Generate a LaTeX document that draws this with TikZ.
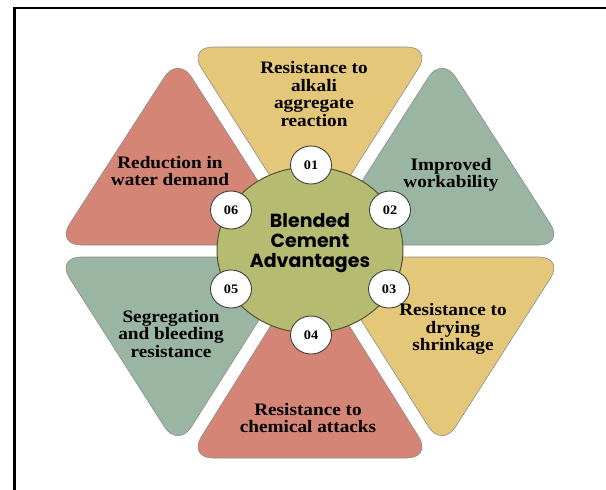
\documentclass[tikz,border=0pt]{standalone}
\usepackage{fontspec}
\setmainfont{Liberation Serif}[FakeStretch=1.1]
\newfontfamily\hubfont{Poppins}
\usetikzlibrary{shapes}
\definecolor{petalyellow}{RGB}{229,199,121}
\definecolor{petalgreen}{RGB}{154,181,161}
\definecolor{petalred}{RGB}{213,133,118}
\definecolor{hubolive}{RGB}{181,187,112}
\tikzstyle{petal} = [draw=black!45, line width=0.6pt, rounded corners=25pt]
\tikzstyle{petaltext} = [align=center, text=black, font=\bfseries\fontsize{17.5}{17.5}\selectfont]
\tikzstyle{numdot} = [ellipse, draw=black!75, line width=0.9pt, fill=white, minimum width=41pt, minimum height=38pt, inner sep=0pt, font=\bfseries\fontsize{13}{13}\selectfont]
\tikzstyle{hubdisc} = [ellipse, draw=hubolive!45!black, line width=1pt, fill=hubolive, minimum width=186pt, minimum height=166pt]

\begin{document}
\begin{tikzpicture}[x=1pt, y=-1pt]
\useasboundingbox (0,0) rectangle (606,490);
\draw[line width=2.4pt] (14.5,490) -- (14.5,7.8) -- (606,7.8);

% petals round the hub
\draw[petal, fill=petalyellow] (188,47) -- (432,47) -- (310,239) -- cycle;
\draw[petal, fill=petalgreen] (321.2,245) -- (442,56) -- (564,245) -- cycle;
\draw[petal, fill=petalyellow] (321.2,257) -- (564,257) -- (442,448) -- cycle;
\draw[petal, fill=petalred] (310,263) -- (432,458) -- (188,458) -- cycle;
\draw[petal, fill=petalgreen] (298.8,257) -- (178,448) -- (56,257) -- cycle;
\draw[petal, fill=petalred] (298.8,245) -- (56,245) -- (178,56) -- cycle;

% hub
\node[hubdisc] (hub) at (310,250) {};
\node[align=center, font=\hubfont\bfseries\fontsize{19}{20}\selectfont] (hubtext) at (310,243) {Blended\\Cement\\Advantages};

% numbers
\node[numdot] (n01) at (311,165) {01};
\node[numdot] (n02) at (390,210) {02};
\node[numdot] (n03) at (389,289) {03};
\node[numdot] (n04) at (311,335) {04};
\node[numdot] (n05) at (231,289) {05};
\node[numdot] (n06) at (231,210) {06};

% texts
\node[petaltext] (alkali) at (314,94) {Resistance to\\alkali\\aggregate\\reaction};
\node[petaltext] (workability) at (451,175) {Improved\\workability};
\node[petaltext] (drying) at (453,329) {Resistance to\\drying\\shrinkage};
\node[petaltext] (chemical) at (308,418) {Resistance to\\chemical attacks};
\node[petaltext] (bleeding) at (171,334) {Segregation\\and bleeding\\resistance};
\node[petaltext] (water) at (170,171) {Reduction in\\water demand};
\end{tikzpicture}
\end{document}
